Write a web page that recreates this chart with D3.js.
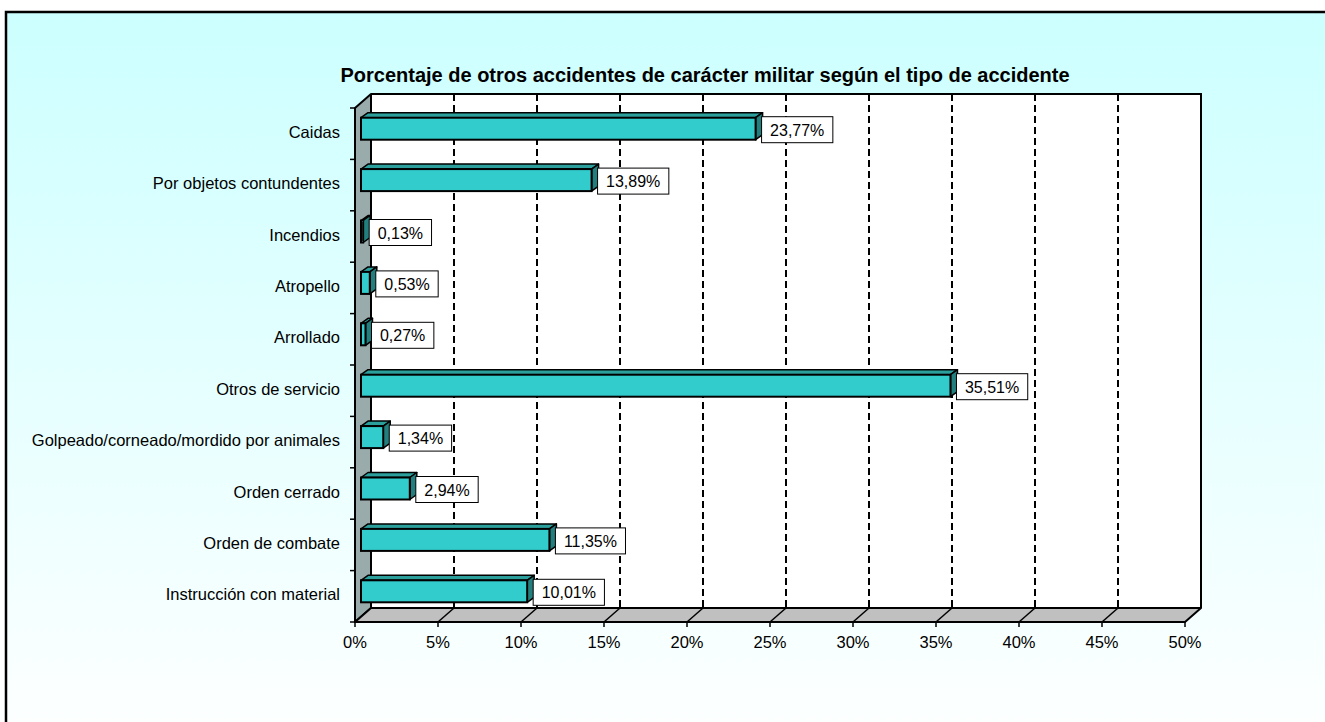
<!DOCTYPE html>
<html>
<head>
<meta charset="utf-8">
<script src="https://cdn.jsdelivr.net/npm/d3@7"></script>
<style>
  body { margin: 0; background: #fff; }
  text { font-family: "Liberation Sans", Arial, sans-serif; }
</style>
</head>
<body>
<div id="chart"></div>
<script>
// Data
var categories = ["Caidas", "Por objetos contundentes", "Incendios", "Atropello", "Arrollado",
    "Otros de servicio", "Golpeado/corneado/mordido por animales", "Orden cerrado",
    "Orden de combate", "Instrucción con material"];
var values = [23.77, 13.89, 0.13, 0.53, 0.27, 35.51, 1.34, 2.94, 11.35, 10.01];
var labels = ["23,77%", "13,89%", "0,13%", "0,53%", "0,27%", "35,51%", "1,34%", "2,94%", "11,35%", "10,01%"];
var xTicks = [0, 5, 10, 15, 20, 25, 30, 35, 40, 45, 50];

var W = 1325, H = 722;
var depth = {dx: 16, dy: -14};   // wall depth
var barFront = {dx: 6, dy: -5}, barBack = {dx: 13, dy: -10};

var svg = d3.select("#chart").append("svg")
    .attr("width", W)
    .attr("height", H);

// background gradient
var grad = svg.append("defs").append("linearGradient")
    .attr("id", "bg").attr("x1", 0).attr("y1", 0).attr("x2", 0).attr("y2", 1);
grad.append("stop").attr("offset", "0%").attr("stop-color", "#ccffff");
grad.append("stop").attr("offset", "100%").attr("stop-color", "#ffffff");

svg.append("rect")
    .attr("x", 6).attr("y", 12)
    .attr("width", W + 20).attr("height", H + 20)
    .attr("fill", "url(#bg)")
    .attr("stroke", "#000")
    .attr("stroke-width", 2.5);

// Title
svg.append("text")
    .attr("x", 705).attr("y", 82)
    .attr("text-anchor", "middle")
    .style("font-size", "20px")
    .style("font-weight", "bold")
    .text("Porcentaje de otros accidentes de carácter militar según el tipo de accidente");

// Scales (front plane)
var x = d3.scaleLinear().domain([0, 50]).range([355, 1185]);
var y = d3.scaleBand().domain(categories).range([108, 622]);
var x0 = x(0), x1 = x(50), yTop = y.range()[0], yBot = y.range()[1];

function pt(a) { return a[0] + "," + a[1]; }

// back wall
svg.append("rect")
    .attr("x", x0 + depth.dx).attr("y", yTop + depth.dy)
    .attr("width", x1 - x0).attr("height", yBot - yTop)
    .attr("fill", "#fff");

// side wall
svg.append("polygon")
    .attr("points", [[x0, yTop], [x0 + depth.dx, yTop + depth.dy], [x0 + depth.dx, yBot + depth.dy], [x0, yBot]].map(pt).join(" "))
    .attr("fill", "#9aabab")
    .attr("stroke", "#000").attr("stroke-width", 2).attr("stroke-linejoin", "round");

// floor
svg.append("polygon")
    .attr("points", [[x0, yBot], [x0 + depth.dx, yBot + depth.dy], [x1 + depth.dx, yBot + depth.dy], [x1, yBot]].map(pt).join(" "))
    .attr("fill", "#c0c0c0")
    .attr("stroke", "#000").attr("stroke-width", 2).attr("stroke-linejoin", "round");

// gridlines on back wall
svg.selectAll(".grid")
    .data(xTicks.slice(1, -1))
    .enter().append("line")
    .attr("x1", function(d) { return x(d) + depth.dx; })
    .attr("x2", function(d) { return x(d) + depth.dx; })
    .attr("y1", yTop + depth.dy)
    .attr("y2", yBot + depth.dy)
    .attr("stroke", "#000")
    .attr("stroke-width", 2)
    .attr("stroke-dasharray", "7,4");

// gridlines on floor
svg.selectAll(".floorgrid")
    .data(xTicks.slice(1, -1))
    .enter().append("line")
    .attr("x1", function(d) { return x(d); })
    .attr("x2", function(d) { return x(d) + depth.dx; })
    .attr("y1", yBot)
    .attr("y2", yBot + depth.dy)
    .attr("stroke", "#000")
    .attr("stroke-width", 1.5);

// back wall outline (top and right)
svg.append("polyline")
    .attr("points", [[x0 + depth.dx, yTop + depth.dy], [x1 + depth.dx, yTop + depth.dy], [x1 + depth.dx, yBot + depth.dy]].map(pt).join(" "))
    .attr("fill", "none")
    .attr("stroke", "#000").attr("stroke-width", 2);

// X axis ticks and labels
svg.selectAll(".xtick")
    .data(xTicks)
    .enter().append("line")
    .attr("x1", function(d) { return x(d); })
    .attr("x2", function(d) { return x(d); })
    .attr("y1", yBot).attr("y2", yBot + 5)
    .attr("stroke", "#000").attr("stroke-width", 1.5);

svg.selectAll(".xlabel")
    .data(xTicks)
    .enter().append("text")
    .attr("x", function(d) { return x(d); })
    .attr("y", yBot + 26)
    .attr("text-anchor", "middle")
    .style("font-size", "16.5px")
    .text(function(d) { return d + "%"; });

// Y axis ticks and labels
var bounds = categories.map(function(c) { return y(c); }).concat([yBot]);
svg.selectAll(".ytick")
    .data(bounds)
    .enter().append("line")
    .attr("x1", x0 - 5).attr("x2", x0)
    .attr("y1", function(d) { return d; })
    .attr("y2", function(d) { return d; })
    .attr("stroke", "#000").attr("stroke-width", 1.5);

svg.selectAll(".ylabel")
    .data(categories)
    .enter().append("text")
    .attr("x", x0 - 15)
    .attr("y", function(d) { return y(d) + y.bandwidth() / 2 + 4; })
    .attr("text-anchor", "end")
    .style("font-size", "16.5px")
    .text(function(d) { return d; });

// 3D bars
var barH = 22;
var bars = svg.selectAll(".bar")
    .data(values)
    .enter().append("g");

bars.each(function(v, i) {
    var g = d3.select(this);
    var cy = y(categories[i]) + y.bandwidth() / 2;
    var xa = x(0), xb = x(v);
    var t = cy - barH / 2, b = cy + barH / 2;
    var F = barFront, B = barBack;
    // top face
    g.append("polygon")
        .attr("points", [[xa + F.dx, t + F.dy], [xa + B.dx, t + B.dy], [xb + B.dx, t + B.dy], [xb + F.dx, t + F.dy]].map(pt).join(" "))
        .attr("fill", "#2b9f9c").attr("stroke", "#000").attr("stroke-width", 1.5).attr("stroke-linejoin", "round");
    // side face
    g.append("polygon")
        .attr("points", [[xb + F.dx, t + F.dy], [xb + B.dx, t + B.dy], [xb + B.dx, b + B.dy], [xb + F.dx, b + F.dy]].map(pt).join(" "))
        .attr("fill", "#237f7d").attr("stroke", "#000").attr("stroke-width", 1.5).attr("stroke-linejoin", "round");
    // front face
    g.append("rect")
        .attr("x", xa + F.dx).attr("y", t + F.dy)
        .attr("width", xb - xa).attr("height", barH)
        .attr("fill", "#33cccc").attr("stroke", "#000").attr("stroke-width", 2);

    // data label
    var txt = g.append("text")
        .attr("y", cy + F.dy + 7)
        .style("font-size", "16px")
        .text(labels[i]);
    var tw = txt.node().getComputedTextLength();
    var bx = xb + B.dx - 1;
    g.insert("rect", "text")
        .attr("x", bx).attr("y", cy + F.dy - 12)
        .attr("width", tw + 17).attr("height", 26)
        .attr("fill", "#fff").attr("stroke", "#000").attr("stroke-width", 1);
    txt.attr("x", bx + 8.5);
});
</script>
</body>
</html>
